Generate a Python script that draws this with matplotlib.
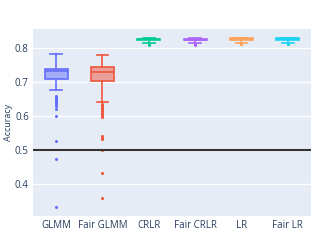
import matplotlib
matplotlib.use("Agg")
import matplotlib.pyplot as plt
import matplotlib.colors as mcolors

plt.rcParams['font.family'] = ['Open Sans', 'DejaVu Sans']

# Box statistics
models = ['GLMM', 'Fair GLMM', 'CRLR', 'Fair CRLR', 'LR', 'Fair LR']
colors = ['#636EFA', '#EF553B', '#00CC96', '#AB63FA', '#FFA15A', '#19D3F3']
whislo = [0.676, 0.641, 0.813, 0.813, 0.815, 0.815]
q1 = [0.709, 0.702, 0.823, 0.822, 0.824, 0.824]
med = [0.733, 0.728, 0.825, 0.824, 0.826, 0.826]
q3 = [0.739, 0.743, 0.827, 0.826, 0.828, 0.828]
whishi = [0.783, 0.778, 0.829, 0.828, 0.830, 0.830]
fliers = [
    [0.659, 0.656, 0.653, 0.650, 0.647, 0.644, 0.640, 0.635, 0.628, 0.620,
     0.601, 0.527, 0.474, 0.334],
    [0.636, 0.632, 0.628, 0.624, 0.619, 0.614, 0.609, 0.603, 0.597,
     0.542, 0.536, 0.531, 0.500, 0.432, 0.360],
    [0.810, 0.808],
    [0.810, 0.808],
    [0.812, 0.810],
    [0.812, 0.810],
]
threshold = 0.5

stats = []
for i in range(len(models)):
    stats.append({'label': models[i], 'whislo': whislo[i], 'q1': q1[i],
                  'med': med[i], 'q3': q3[i], 'whishi': whishi[i],
                  'fliers': fliers[i]})

fig = plt.figure(figsize=(3.35, 2.40), dpi=100)
ax = fig.add_axes([0.0985, 0.101, 0.8295, 0.778])
ax.set_facecolor('#E5ECF6')

positions = list(range(len(models)))
bp = ax.bxp(stats, positions=positions, widths=0.5, patch_artist=True,
            showcaps=True, zorder=3)

for i, c in enumerate(colors):
    fill = mcolors.to_rgba(c, 0.5)
    bp['boxes'][i].set(facecolor=fill, edgecolor=c, linewidth=1.2)
    bp['medians'][i].set(color=c, linewidth=1.2)
    for w in bp['whiskers'][2*i:2*i+2]:
        w.set(color=c, linewidth=1.2)
    for cap in bp['caps'][2*i:2*i+2]:
        cap.set(color=c, linewidth=1.2)
        xd = cap.get_xdata()
        mid = (xd[0] + xd[1]) / 2
        cap.set_xdata([mid - 0.125, mid + 0.125])
    bp['fliers'][i].set(marker='o', markersize=2.2, markerfacecolor=c,
                        markeredgecolor='none', alpha=1)

ax.axhline(threshold, color='#333333', linewidth=1.5, zorder=4)

ax.set_xlim(-0.5, len(models) - 0.5)
ax.set_ylim(0.307, 0.855)
ax.set_yticks([0.4, 0.5, 0.6, 0.7, 0.8])
ax.grid(axis='y', color='white', linewidth=1, zorder=0)
ax.set_axisbelow(True)
for s in ax.spines.values():
    s.set_visible(False)
ax.tick_params(length=0, labelsize=7, colors='#2a3f5f', pad=3)
ax.set_xticks(positions)
ax.set_xticklabels(models)
ax.set_ylabel('Accuracy', fontsize=6.5, color='#2a3f5f')
ax.yaxis.set_label_coords(-0.072, 0.5)

fig.savefig('out.png', dpi=100)
